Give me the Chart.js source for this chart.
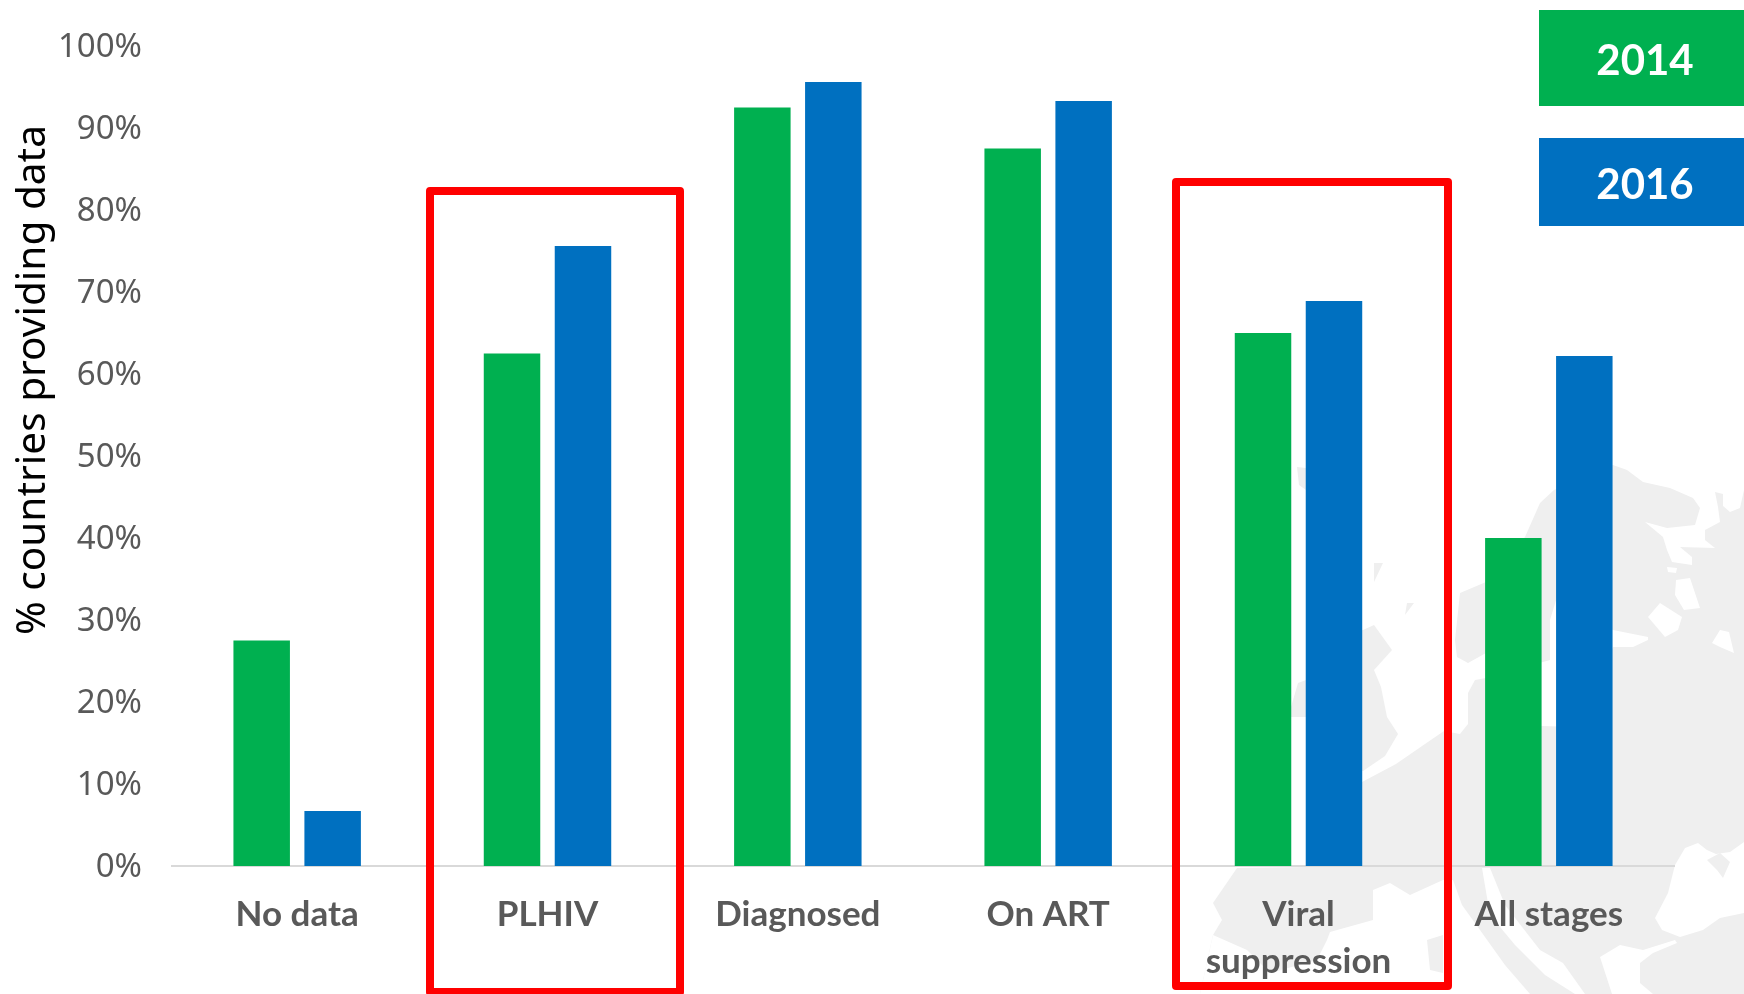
<!DOCTYPE html>
<html><head><meta charset="utf-8">
<script src="https://cdn.jsdelivr.net/npm/chart.js@4"></script>
<style>html,body{margin:0;padding:0;background:#fff;overflow:hidden}#c{display:block}</style>
</head><body><canvas id="c" width="1744" height="994"></canvas>
<script>
const categories = ['No data','PLHIV','Diagnosed','On ART',['Viral','suppression'],'All stages'];
const seriesNames = ['2014','2016'];
const values2014 = [27.5,62.5,92.5,87.5,65,40];
const values2016 = [6.7,75.6,95.6,93.3,68.9,62.2];
const colors = ['#00B050','#0070C0'];
const yTitle = '% countries providing data';

// faint background map (decoration only)
const land = [
 [[1486,653],[1468,663],[1457,657],[1455,640],[1460,593],[1486,582],[1525,537],[1540,503],[1554,490],[1613,465],[1627,470],[1643,482],[1670,488],[1693,498],[1700,508],[1695,525],[1667,528],[1645,522],[1663,537],[1667,550],[1672,562],[1692,565],[1692,557],[1680,547],[1715,548],[1705,540],[1705,530],[1720,522],[1718,507],[1715,492],[1723,494],[1723,506],[1730,512],[1740,508],[1744,490],[1744,994],[1200,994],[1213,935],[1222,920],[1213,903],[1237,868],[1306,867],[1362,782],[1396,764],[1425,744],[1444,731],[1460,734],[1468,724],[1468,693],[1475,680],[1486,678]],
 [[1363,630],[1374,625],[1392,650],[1374,670],[1381,687],[1387,717],[1398,734],[1385,756],[1363,771],[1320,771],[1320,640]],
 [[1298,683],[1306,680],[1306,717],[1291,717],[1291,707]],
 [[1297,467],[1306,468],[1306,490],[1299,485]],
 [[1374,563],[1383,563],[1374,582]],
 [[1407,603],[1414,603],[1405,615]]];
const seas = [
 [[1486,678],[1550,660],[1550,620],[1557,597],[1613,630],[1648,637],[1648,640],[1633,647],[1613,647],[1576,727],[1542,726],[1486,720]],
 [[1200,994],[1213,935],[1247,950],[1270,973],[1317,960],[1327,940],[1330,932],[1373,920],[1373,890],[1390,883],[1410,895],[1443,880],[1453,880],[1462,905],[1480,930],[1505,965],[1530,994]],
 [[1482,868],[1490,868],[1505,905],[1540,950],[1563,963],[1585,994],[1575,994],[1545,975],[1515,945],[1490,915]],
 [[1675,865],[1685,848],[1698,843],[1707,850],[1716,854],[1730,852],[1744,842],[1744,913],[1720,918],[1703,930],[1680,937],[1662,930],[1655,918],[1668,893]],
 [[1600,957],[1620,945],[1643,950],[1675,940],[1677,943],[1653,953],[1640,963],[1640,983],[1653,994],[1612,994]],
 [[1648,617],[1660,603],[1682,617],[1678,630],[1665,637]],
 [[1712,643],[1720,630],[1729,632],[1734,653],[1720,647]],
 [[1667,567],[1677,568],[1676,573],[1668,572]],
 [[1676,580],[1690,578],[1700,608],[1684,610],[1675,595]]];
const islands = [
 [[1707,860],[1720,853],[1730,862],[1723,878],[1717,870]],
 [[1427,940],[1443,935],[1443,973],[1430,970]]];
const boxes = [[430,191,680,992],[1176,182,1448,986]];
const legendBoxes = [[1539,10,205,96],[1539,138,205,88]];

const mapPlugin = {id:'map', beforeDraw(ch){
  const g=ch.ctx;
  const fill=(polys,col)=>{g.fillStyle=col;polys.forEach(po=>{g.beginPath();po.forEach((p,i)=>{i?g.lineTo(p[0],p[1]):g.moveTo(p[0],p[1]);});g.closePath();g.fill();});};
  g.save();g.fillStyle='#fff';g.fillRect(0,0,1744,994);fill(land,'#efefef');fill(seas,'#ffffff');fill(islands,'#efefef');g.restore();
}};
const overlayPlugin = {id:'overlay', afterDraw(ch){
  const g=ch.ctx; g.save();
  g.strokeStyle='#ff0000';g.lineWidth=8;g.lineJoin='round';
  boxes.forEach(b=>g.strokeRect(b[0],b[1],b[2]-b[0],b[3]-b[1]));
  g.textAlign='center';g.textBaseline='middle';
  legendBoxes.forEach((b,i)=>{g.fillStyle=colors[i];g.fillRect(b[0],b[1],b[2],b[3]);
    g.fillStyle='#fff';g.font='bold 42px Lato';g.fillText(seriesNames[i],1645,b[1]+b[3]/2+3);});
  g.translate(33,380);g.rotate(-Math.PI/2);g.fillStyle='#000';g.font='40.6px "Noto Sans"';g.fillText(yTitle,0,0);
  g.restore();
}};
new Chart(document.getElementById('c'),{
  type:'bar',
  data:{labels:categories,datasets:[
    {label:seriesNames[0],data:values2014,backgroundColor:colors[0],categoryPercentage:0.567,barPercentage:0.796},
    {label:seriesNames[1],data:values2016,backgroundColor:colors[1],categoryPercentage:0.567,barPercentage:0.796}]},
  options:{responsive:false,animation:false,
    layout:{padding:{top:46,right:70,left:0,bottom:0}},
    plugins:{legend:{display:false},title:{display:false},tooltip:{enabled:false}},
    scales:{
      x:{grid:{display:false,drawTicks:false},border:{display:true,color:'#d9d9d9',width:2},
         ticks:{color:'#595959',padding:25,maxRotation:0,autoSkip:false,font:{family:'Lato',weight:'bold',size:35,lineHeight:1.34}},
         afterFit(s){s.height=128;s.paddingLeft=0;s.paddingRight=0;}},
      y:{min:0,max:100,grid:{display:false,drawTicks:false},border:{display:false},
         ticks:{stepSize:10,color:'#595959',padding:30,labelOffset:2,font:{family:'"Noto Sans"',size:33},callback:v=>v+'%'},
         afterFit(s){s.width=172;s.paddingTop=0;s.paddingBottom=0;}}
    }},
  plugins:[mapPlugin,overlayPlugin]
});
</script></body></html>
